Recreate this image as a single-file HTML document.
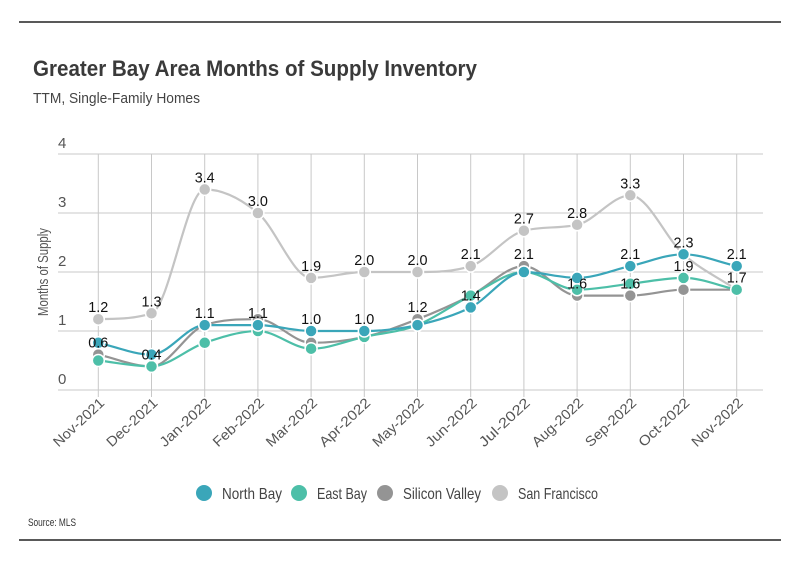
<!DOCTYPE html>
<html><head><meta charset="utf-8"><style>
body{margin:0;background:#fff}
svg{display:block;font-family:"Liberation Sans Narrow","Liberation Sans",sans-serif}
</style></head><body>
<svg id="c" width="801" height="575" viewBox="0 0 801 575">
<line x1="19" y1="22" x2="781" y2="22" stroke="#222" stroke-width="1.5"/>
<text x="33" y="76" font-size="22" font-weight="bold" fill="#3a3a3a" textLength="444" lengthAdjust="spacingAndGlyphs" font-family="Liberation Sans, sans-serif">Greater Bay Area Months of Supply Inventory</text>
<text x="33" y="103" font-size="15" fill="#444" textLength="167" lengthAdjust="spacingAndGlyphs">TTM, Single-Family Homes</text>
<text transform="translate(48,272) rotate(-90)" text-anchor="middle" font-size="15" fill="#555" textLength="88" lengthAdjust="spacingAndGlyphs">Months of Supply</text>
<g id="grid"></g><g id="series"></g><g id="labels"></g>
<g id="legend"></g>
<text x="28" y="526" font-size="11" fill="#333" textLength="48" lengthAdjust="spacingAndGlyphs">Source: MLS</text>
<line x1="19" y1="540" x2="781" y2="540" stroke="#222" stroke-width="1.5"/>
</svg>
<script>
const categories=["Nov-2021","Dec-2021","Jan-2022","Feb-2022","Mar-2022","Apr-2022","May-2022","Jun-2022","Jul-2022","Aug-2022","Sep-2022","Oct-2022","Nov-2022"];
const yTicks=[0,1,2,3,4];
const seriesNames=["North Bay","East Bay","Silicon Valley","San Francisco"];
const seriesColors=["#3aa6b9","#4dbfa8","#949494","#c4c4c4"];
const northBay=[0.8,0.6,1.1,1.1,1.0,1.0,1.1,1.4,2.0,1.9,2.1,2.3,2.1];
const eastBay=[0.5,0.4,0.8,1.0,0.7,0.9,1.1,1.6,2.0,1.7,1.8,1.9,1.7];
const siliconValley=[0.6,0.4,1.1,1.2,0.8,0.9,1.2,1.6,2.1,1.6,1.6,1.7,1.7];
const sanFrancisco=[1.2,1.3,3.4,3.0,1.9,2.0,2.0,2.1,2.7,2.8,3.3,2.3,1.7];
const secondLabelSeries=[2,2,2,0,0,0,2,0,2,2,2,1,0];
const extraLabelSeries=[-1,-1,-1,-1,-1,-1,-1,-1,-1,-1,0,-1,-1];
const seriesData=[northBay,eastBay,siliconValley,sanFrancisco];
const NS="http://www.w3.org/2000/svg";
const x0=98.3,dx=53.2,yBase=390,yUnit=59;
const xs=i=>x0+i*dx, ys=v=>yBase-v*yUnit;
function mk(tag,attrs,parent){const e=document.createElementNS(NS,tag);for(const k in attrs)e.setAttribute(k,attrs[k]);parent.appendChild(e);return e;}
const grid=document.getElementById('grid');
yTicks.forEach(t=>{
 const l=mk('line',{x1:58,x2:763,y1:ys(t),y2:ys(t),stroke:'#c8c8c8','stroke-width':1},grid);
 
 
 const tx=mk('text',{x:58,y:ys(t)-6,'font-size':15,fill:'#555'},grid);tx.textContent=t;
 
 
});
categories.forEach((c,i)=>{
 const l=mk('line',{x1:xs(i),x2:xs(i),y1:ys(4),y2:ys(0)+7,stroke:'#c8c8c8','stroke-width':1},grid);
 
 
 const tx=mk('text',{transform:`translate(${xs(i)+7},404) rotate(-43)`,'text-anchor':'end','font-size':14,fill:'#555',textLength:64,lengthAdjust:'spacingAndGlyphs'},grid);tx.textContent=c;
 
 
});
function monotone(pts){
 const n=pts.length,m=[],d=[];
 for(let i=0;i<n-1;i++)d.push((pts[i+1][1]-pts[i][1])/(pts[i+1][0]-pts[i][0]));
 for(let i=0;i<n;i++){
  if(i==0)m.push(d[0]);else if(i==n-1)m.push(d[n-2]);
  else m.push(d[i-1]*d[i]<=0?0:(d[i-1]+d[i])/2);
 }
 for(let i=0;i<n-1;i++){if(d[i]==0){m[i]=0;m[i+1]=0;continue;}const a=m[i]/d[i],b=m[i+1]/d[i],s=a*a+b*b;if(s>9){const t=3/Math.sqrt(s);m[i]=t*a*d[i];m[i+1]=t*b*d[i];}}
 let p=`M${pts[0][0]},${pts[0][1]}`;
 for(let i=0;i<n-1;i++){const h=(pts[i+1][0]-pts[i][0])/3;p+=` C${pts[i][0]+h},${pts[i][1]+m[i]*h} ${pts[i+1][0]-h},${pts[i+1][1]-m[i+1]*h} ${pts[i+1][0]},${pts[i+1][1]}`;}
 return p;
}
const sg=document.getElementById('series');
[3,2,1,0].forEach(s=>{
 const g=mk('g',{},sg);
 
 
 const pts=seriesData[s].map((v,i)=>[xs(i),ys(v)]);
 const p=mk('path',{d:monotone(pts),fill:'none',stroke:seriesColors[s],'stroke-width':2.2},g);
 
 
 pts.forEach(q=>{const c=mk('circle',{cx:q[0],cy:q[1],r:6,fill:seriesColors[s],stroke:'#fff','stroke-width':1.5},g);
  
  });
});
const lg=document.getElementById('labels');
function lab(x,y,t){const e=mk('text',{x:x,y:y,'text-anchor':'middle','font-size':15,fill:'#111',textLength:20,lengthAdjust:'spacingAndGlyphs'},lg);e.textContent=t;
 
 }
categories.forEach((c,i)=>{
 lab(xs(i),ys(sanFrancisco[i])-7,sanFrancisco[i].toFixed(1));
 const v2=seriesData[secondLabelSeries[i]][i];
 lab(xs(i),ys(v2)-7,v2.toFixed(1));
 if(extraLabelSeries[i]>=0){const v=seriesData[extraLabelSeries[i]][i];lab(xs(i),ys(v)-7,v.toFixed(1));}
});
const leg=document.getElementById('legend');
const lx=[204,299,385,500];
const lw=[60,50,78,80];
seriesNames.forEach((n,s)=>{
 const g=mk('g',{},leg);
 
 
 mk('circle',{cx:lx[s],cy:493,r:8,fill:seriesColors[s]},g);
 const t=mk('text',{x:lx[s]+18,y:499,'font-size':16,fill:'#444',textLength:lw[s],lengthAdjust:'spacingAndGlyphs'},g);t.textContent=n;
});
</script>
</body></html>
